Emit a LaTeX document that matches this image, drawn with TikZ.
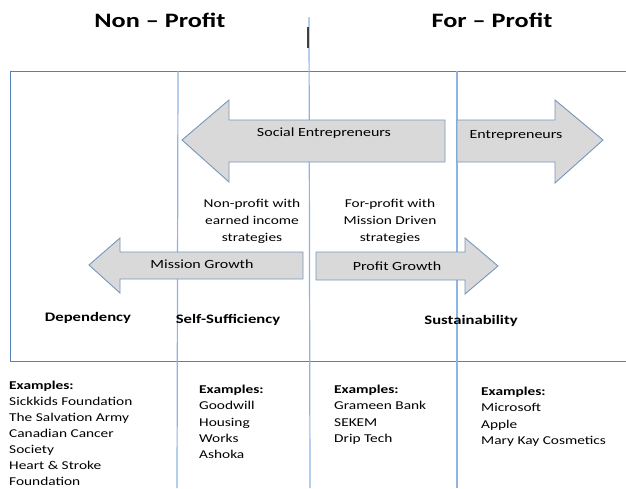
\documentclass[tikz,border=0pt]{standalone}
\usepackage{fontspec}
\setmainfont[FakeStretch=1.28]{Carlito}
\begin{document}
\begin{tikzpicture}[x=1pt,y=-1pt,
  frameline/.style={draw=framecol,line width=0.9pt},
  divider/.style={draw=divcol,line width=1.2pt},
  bigarrow/.style={draw=arrowcol,line width=0.9pt,fill=arrowfill},
  arrowlabel/.style={inner sep=0pt,font=\fontsize{12.5}{15}\selectfont},
  stage/.style={inner sep=0pt,font=\fontsize{13}{16}\selectfont\bfseries},
  heading/.style={inner sep=0pt,font=\fontsize{20.5}{24}\selectfont\bfseries},
  note/.style={inner sep=0pt,align=center,font=\fontsize{12}{17}\selectfont},
  examples/.style={inner sep=0pt,align=left,anchor=north west,font=\fontsize{12}{16.2}\selectfont}]
\definecolor{framecol}{RGB}{86,128,184}
\definecolor{divcol}{RGB}{140,180,228}
\definecolor{arrowcol}{RGB}{120,150,188}
\definecolor{arrowfill}{RGB}{217,217,217}
\useasboundingbox (0,0) rectangle (626,488);
\fill[white] (0,0) rectangle (626,488);

% outer frame (runs off the right edge)
\draw[frameline] (640,71) -- (10,71) -- (10,361) -- (640,361);

% column dividers
\coordinate (d1t) at (178,71);  \coordinate (d1b) at (177,488);
\coordinate (d2t) at (309,17);  \coordinate (d2b) at (310,488);
\coordinate (d3t) at (457,71);  \coordinate (d3b) at (457,488);
\draw[divider] (d1t) -- (d1b);
\draw[divider] (d2t) -- (d2b);
\draw[divider] (d3t) -- (d3b);
\fill[black!75] (306.8,27) rectangle (308.8,48);

% headings
\node[heading] (np) at (160,20) {Non – Profit};
\node[heading] (fp) at (492,20) {For – Profit};

% entrepreneur arrows
\draw[bigarrow] (182,140) -- (229,100) -- (229,120) -- (445,120) -- (445,162)
  -- (229,162) -- (229,182) -- cycle;
\node[arrowlabel] (se) at (324,133) {Social Entrepreneurs};
\draw[bigarrow] (457,120) -- (555,120) -- (555,100) -- (603,140) -- (555,183)
  -- (555,162) -- (457,162) -- cycle;
\node[arrowlabel] (en) at (516,135) {Entrepreneurs};

% growth arrows
\draw[bigarrow] (89,265) -- (120,238) -- (120,252) -- (303,252) -- (303,279)
  -- (120,279) -- (120,293) -- cycle;
\node[arrowlabel] (mg) at (202,264) {Mission Growth};
\draw[bigarrow] (316,252) -- (465,252) -- (465,238) -- (498,266) -- (465,294)
  -- (465,280) -- (316,280) -- cycle;
\node[arrowlabel] (pg) at (397,266) {Profit Growth};

% hybrid descriptions
\node[note] (nph) at (252,221) {Non-profit with\\earned income\\strategies};
\node[note] (fph) at (390,221) {For-profit with\\Mission Driven\\strategies};

% stages
\node[stage] (dep) at (88,318) {Dependency};
\node[stage] (ssf) at (228,320) {Self-Sufficiency};
\node[stage] (sus) at (471,321) {Sustainability};

% examples
\node[examples,font=\fontsize{12}{16}\selectfont] (ex1) at (9,381) {\textbf{Examples:}\\Sickkids Foundation\\The Salvation Army\\Canadian Cancer\\Society\\Heart \& Stroke\\Foundation};
\node[examples] (ex2) at (199,385) {\textbf{Examples:}\\Goodwill\\Housing\\Works\\Ashoka};
\node[examples] (ex3) at (334,385) {\textbf{Examples:}\\Grameen Bank\\SEKEM\\Drip Tech};
\node[examples] (ex4) at (481,387) {\textbf{Examples:}\\Microsoft\\Apple\\Mary Kay Cosmetics};
\end{tikzpicture}
\end{document}
